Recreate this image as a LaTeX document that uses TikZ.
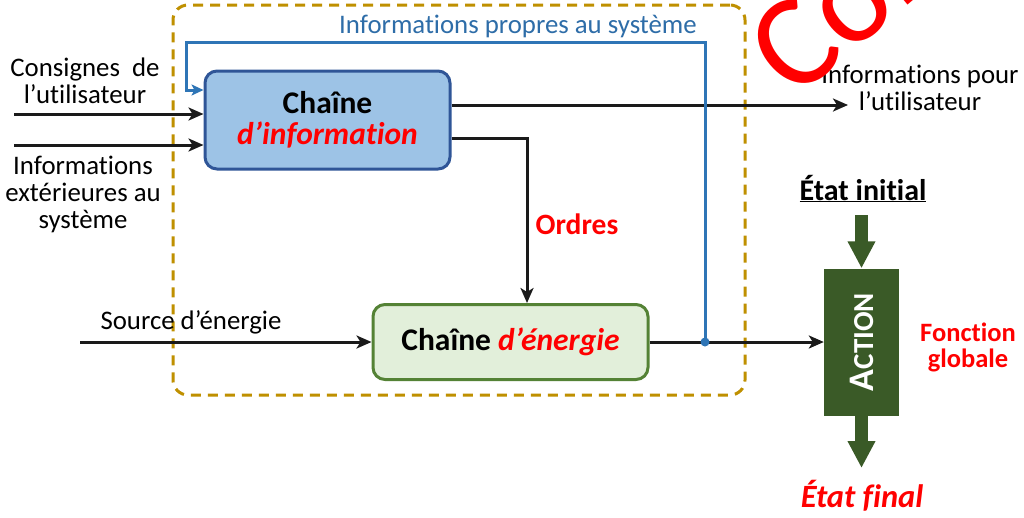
\documentclass[tikz,border=0pt]{standalone}
\usepackage{fontspec}
\setmainfont{Carlito}[Ligatures=NoCommon]
\usetikzlibrary{arrows.meta}
\definecolor{gold}{HTML}{BF9000}
\definecolor{bluel}{HTML}{2E75B6}
\definecolor{bluet}{HTML}{2E6DA8}
\definecolor{infofill}{HTML}{9DC3E6}
\definecolor{infodraw}{HTML}{2F5597}
\definecolor{enfill}{HTML}{E2EFDA}
\definecolor{endraw}{HTML}{548235}
\definecolor{actg}{HTML}{3A5A27}
\definecolor{lin}{HTML}{1A1A1A}
\newcommand{\fs}[2]{\fontsize{#1}{#2}\selectfont}
\tikzset{
  txt/.style={inner sep=0pt, align=center, font=\fs{26.8}{27}},
  arr/.style={draw=lin, line width=3pt, -{Stealth[length=15pt,width=13pt,inset=4pt]}},
  blueline/.style={draw=bluel, line width=3pt},
  sysbox/.style={draw=gold, line width=3pt, dash pattern=on 10pt off 7pt, rounded corners=15pt, minimum width=572pt, minimum height=390pt, inner sep=0pt},
  infobox/.style={draw=infodraw, fill=infofill, line width=3pt, rounded corners=12pt, minimum width=245pt, minimum height=98pt, align=center, inner sep=0pt, font=\fs{31.5}{31}\bfseries},
  enbox/.style={draw=endraw, fill=enfill, line width=3pt, rounded corners=12pt, minimum width=275pt, minimum height=75pt, inner sep=0pt, font=\fs{31.5}{31}\bfseries},
  actbox/.style={fill=actg, minimum width=75pt, minimum height=147pt, inner sep=0pt},
  bigarr/.style={draw=actg, line width=13pt, -{Triangle[length=27pt,width=26pt]}},
}
\begin{document}
\begin{tikzpicture}[x=1pt,y=-1pt]
\useasboundingbox (0,0) rectangle (1024,517);
\fill[white] (0,0) rectangle (1024,517);
% system boundary
\node[sysbox] (sys) at (459,200) {};
% boxes
\node[infobox] (ci) at (327.5,120) {Chaîne\\\itshape\color{red}d’information};
\node[enbox] (ce) at (510.5,342) {Chaîne \color{red}\itshape d’énergie};
\node[actbox] (act) at (861.5,342) {};
\node[rotate=90, text=white, inner sep=0pt, font=\bfseries] (acttxt) at (act.center) {\fs{36}{36}A\fs{29}{29}CTION};
% left texts
\node[txt] (cons) at (85,81) {Consignes \ de\\l’utilisateur};
\node[txt] (infx) at (83,194) {Informations\\extérieures au\\système};
\node[txt, anchor=base] (src) at (191,329) {Source d’énergie};
\node[txt, anchor=base, text=bluet] (prop) at (518,33) {Informations propres au système};
\node[txt] (infu) at (920,88) {Informations pour\\l’utilisateur};
\node[txt, anchor=base, text=red, font=\fs{29.5}{30}\bfseries] (ord) at (577,234) {Ordres};
\node[txt, text=red, font=\fs{26.5}{26}\bfseries] (fg) at (968,347) {Fonction\\globale};
\node[txt, anchor=base, font=\fs{30}{30}\bfseries] (ei) at (863,200) {\underline{État initial}};
\node[txt, anchor=base, text=red, font=\fs{32.5}{32}\bfseries\itshape] (ef) at (862,507) {État final};
% coordinates
\coordinate (in1) at (14,114);
\coordinate (in2) at (14,145);
\coordinate (srcs) at (80,342);
\coordinate (o1) at (848,105);
\coordinate (ordx) at (527,138);
\coordinate (j) at (705,342);
\coordinate (btop) at (705,42);
\coordinate (bleft) at (186,42);
\coordinate (bdown) at (186,90);
\coordinate (eis) at (861.5,215);
\coordinate (efe) at (861.5,468);
% connectors
\draw[arr] (in1) -- (ci.west |- in1);
\draw[arr] (in2) -- (ci.west |- in2);
\draw[arr] (srcs) -- (ce.west);
\draw[arr] (ci.east |- o1) -- (o1);
\draw[arr] (ci.east |- ordx) -- (ordx) -- (ordx |- ce.north);
\draw[arr] (ce.east) -- (act.west);
\draw[blueline, -{Stealth[length=12pt,width=11pt,inset=3pt]}] (j) -- (btop) -- (bleft) -- (bdown) -- (ci.west |- bdown);
\fill[bluel] (j) circle (4.5);
\draw[bigarr] (eis) -- (act.north);
\draw[bigarr] (act.south) -- (efe);
% stamp
\begin{scope}
\clip (0,0) rectangle (1024,517);
\node[anchor=base west, rotate=40, text=red, inner sep=0pt, font=\fs{132}{132}] (stamp) at (794,101) {Cor};
\end{scope}
\end{tikzpicture}
\end{document}
